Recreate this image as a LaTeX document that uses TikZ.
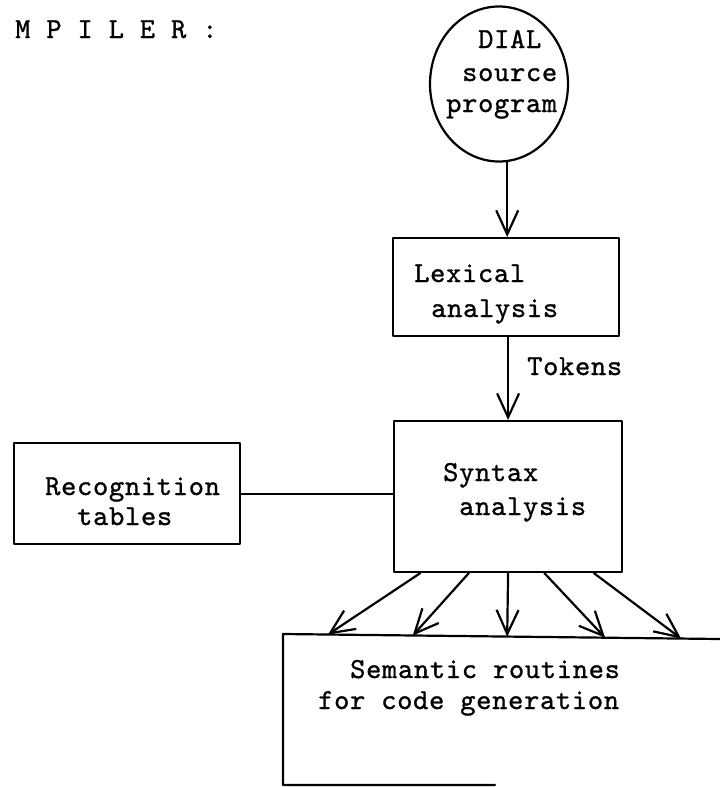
\documentclass[tikz,border=0pt]{standalone}
\usepackage{fontspec}
\newfontfamily\tw{lmmono10-regular.otf}[LetterSpace=2.5,FakeBold=1]
\usetikzlibrary{arrows.meta,calc,shapes.geometric}
\begin{document}
\begin{tikzpicture}[x=1pt,y=-1pt,
  every node/.style={font=\tw\fontsize{29}{35}\selectfont},
  ink/.style={line width=2.2pt, line cap=round, line join=round},
  box/.style={ink, draw, rectangle, inner sep=0pt, anchor=north west},
  txt/.style={anchor=base west, inner sep=0pt},
  flow/.style={ink, -{Straight Barb[length=24pt,width=22pt,line width=2.2pt]}}
]
\useasboundingbox (0,0) rectangle (720,787);

% heading
\node[txt] (title) at (15,38) {M P I L E R :};

% source program
\node[ellipse, ink, draw, minimum width=138pt, minimum height=155pt, inner sep=0pt] (src) at (499,84) {};
\node[txt] (src1) at (478,48) {DIAL};
\node[txt] (src2) at (462,81) {source};
\node[txt] (src3) at (446,112) {program};

% lexical analysis
\node[box, minimum width=226pt, minimum height=98pt] (lex) at (392,237) {};
\node[txt] (lex1) at (414,282) {Lexical};
\node[txt] (lex2) at (431,317) {analysis};

% syntax analysis
\node[box, minimum width=228pt, minimum height=151pt] (syn) at (393,420) {};
\node[txt] (syn1) at (443,481) {Syntax};
\node[txt] (syn2) at (459,515) {analysis};

% recognition tables
\node[box, minimum width=226pt, minimum height=101pt] (rec) at (13,442) {};
\node[txt] (rec1) at (45,495) {Recognition};
\node[txt] (rec2) at (77,525) {tables};

% semantic routines (open outline)
\coordinate (semNE) at (720,639);
\coordinate (semNW) at (283,634);
\coordinate (semSW) at (283,785);
\coordinate (semSE) at (495,785);
\draw[ink] (semNE) -- (semNW) -- (semSW) -- (semSE);
\node[txt] (sem1) at (350,678) {Semantic routines};
\node[txt] (sem2) at (318,709) {for code generation};

% connectors
\draw[flow] (src.-84) -- (src.-84 |- lex.north);
\draw[flow] ([xshift=2pt]lex.south) -- ([xshift=2pt]lex.south |- syn.north);
\node[txt] (tok) at (527,375) {Tokens};
\draw[ink] (rec.east) -- (rec.east -| syn.west);

\foreach \i/\f/\g in {1/0.118/0.103, 2/0.329/0.297, 3/0.5/0.513, 4/0.658/0.737, 5/0.873/0.911}{
  \coordinate (s\i) at ($(syn.south west)!\f!(syn.south east)$);
  \coordinate (t\i) at ($(semNW)!\g!(semNE)$);
  \draw[flow] (s\i) -- (t\i);
}
\end{tikzpicture}
\end{document}
